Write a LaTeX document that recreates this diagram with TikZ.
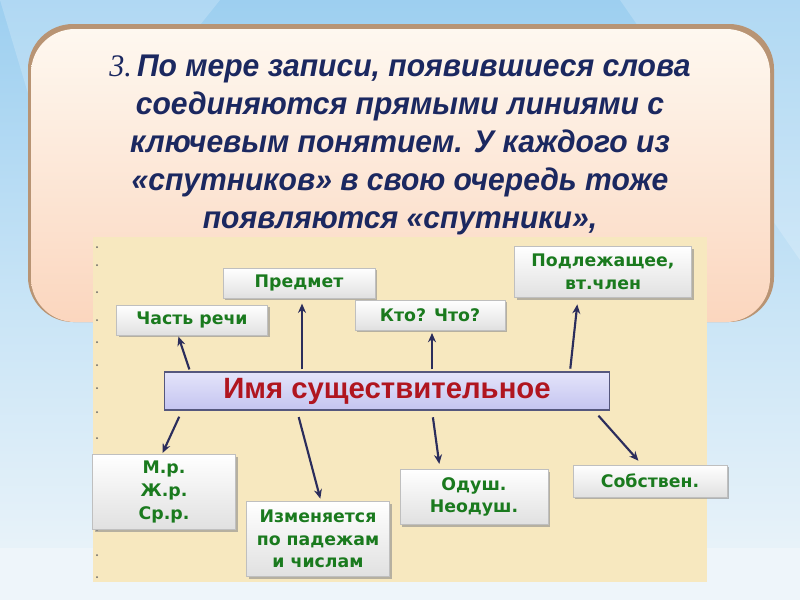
\documentclass[tikz,border=0pt]{standalone}
\usepackage{fontspec}
\setmainfont{Liberation Sans}
\newfontfamily\boxfont{DejaVu Sans}
\newfontfamily\serifit{Liberation Serif}
\usetikzlibrary{shadows,arrows.meta,calc}
\definecolor{navy}{HTML}{1B2860}
\definecolor{boxgreen}{HTML}{1A7A1E}
\definecolor{arrcol}{HTML}{2B2D5C}
\definecolor{tan}{HTML}{F7E8BF}
\definecolor{mainred}{HTML}{B0151F}
\definecolor{bgtop}{HTML}{9DCFF0}
\definecolor{bgmid}{HTML}{C8E4F6}
\definecolor{bgbot}{HTML}{EEF5FA}
\definecolor{paneltop}{HTML}{FEF8F0}
\definecolor{panelbot}{HTML}{FBD6BE}
\definecolor{panelrim}{HTML}{B89474}
\definecolor{lavtop}{HTML}{E4E4FA}
\definecolor{lavbot}{HTML}{C4C4F0}
\begin{document}
\begin{tikzpicture}[x=0.75pt,y=-0.75pt,
  box/.style={top color=white, bottom color=black!12, draw=black!25, line width=0.4pt,
    drop shadow={shadow xshift=1.5pt, shadow yshift=-1.5pt, fill=black!45, opacity=0.6},
    font=\boxfont\bfseries\fontsize{13}{17}\selectfont, text=boxgreen, align=center, inner sep=0pt},
  arr/.style={draw=arrcol, line width=1.6pt, -{Stealth[length=7pt,width=6pt]}},
  dot/.style={fill=black!60, circle, inner sep=0pt, minimum size=1.5pt}]
\useasboundingbox (0,0) rectangle (800,600);
% background
\shade[top color=bgtop, bottom color=bgbot, middle color=bgmid] (0,0) rectangle (800,600);
\fill[white, opacity=0.2] (0,0) -- (220,0) -- (60,200) -- cycle;
\fill[white, opacity=0.2] (620,0) -- (800,0) -- (800,260) -- cycle;
\fill[bgbot] (0,548) rectangle (800,600);
% rounded panel
\fill[panelrim, rounded corners=45pt*0.75] (28,24) rectangle (774,322);
\shade[top color=paneltop, bottom color=panelbot, rounded corners=44pt*0.75] (31,29) rectangle (770,322);
% title text
\node[text=navy, align=center, font=\bfseries\itshape\fontsize{23.5}{28.5}\selectfont] (title) at (400,145)
 {\scalebox{0.96}[1]{{\serifit\mdseries 3.}\,По мере записи, появившиеся слова}\\
  \scalebox{0.96}[1]{соединяются прямыми линиями с}\\
  \scalebox{0.96}[1]{ключевым понятием. У каждого из}\\
  \scalebox{0.96}[1]{«спутников» в свою очередь тоже}\\
  \scalebox{0.96}[1]{появляются «спутники»,}};
% diagram area
\fill[tan] (93,237) rectangle (707,582);
\foreach \yy in {247,265,292,320,342,365,388,412,438,530,555,577}
  \node[dot] at (97,\yy) {};
% nodes
\node[box, minimum width=152*0.75pt, minimum height=30*0.75pt] (pred) at (299,283) {Предмет};
\node[box, minimum width=151*0.75pt, minimum height=30*0.75pt] (chast) at (192,320) {Часть речи};
\node[box, minimum width=150*0.75pt, minimum height=30*0.75pt] (kto) at (430,315) {Кто? Что?};
\node[box, minimum width=177*0.75pt, minimum height=51*0.75pt] (podl) at (603,272) {Подлежащее,\\вт.член};
\node[top color=lavtop, bottom color=lavbot, draw=arrcol!80, line width=1pt,
  minimum width=445*0.75pt, minimum height=38*0.75pt, text=mainred,
  font=\bfseries\fontsize{22}{23}\selectfont] (main) at (387,391) {Имя существительное};
\node[box, minimum width=143*0.75pt, minimum height=75*0.75pt] (mr) at (164,492) {М.р.\\Ж.р.\\Ср.р.};
\node[box, minimum width=143*0.75pt, minimum height=75*0.75pt] (izm) at (318,539) {Изменяется\\по падежам\\и числам};
\node[box, minimum width=148*0.75pt, minimum height=55*0.75pt] (odush) at (474,497) {Одуш.\\Неодуш.};
\node[box, minimum width=154*0.75pt, minimum height=32*0.75pt] (sobst) at (650,481) {Собствен.};
% arrows
\draw[arr, shorten <=1.5pt, shorten >=1pt] (main.north -| 190,0) -- (chast.south -| 178,0);
\draw[arr, shorten <=1.5pt, shorten >=4pt] (main.north -| 302,0) -- (pred.south -| 302,0);
\draw[arr, shorten <=1.5pt, shorten >=2pt] (main.north -| 432,0) -- (kto.south -| 432,0);
\draw[arr, shorten <=2pt, shorten >=5pt] (main.north -| 570,0) -- (podl.south -| 578,0);
\draw[arr, shorten <=5pt, shorten >=1pt] (main.south -| 182,0) -- (mr.north -| 162,0);
\draw[arr, shorten <=5pt, shorten >=2pt] (main.south -| 297,0) -- (izm.north -| 321,0);
\draw[arr, shorten <=5pt, shorten >=4pt] (main.south -| 432,0) -- (odush.north -| 440,0);
\draw[arr, shorten <=5pt, shorten >=4pt] (main.south -| 594,0) -- (sobst.north -| 642,0);
\end{tikzpicture}
\end{document}
